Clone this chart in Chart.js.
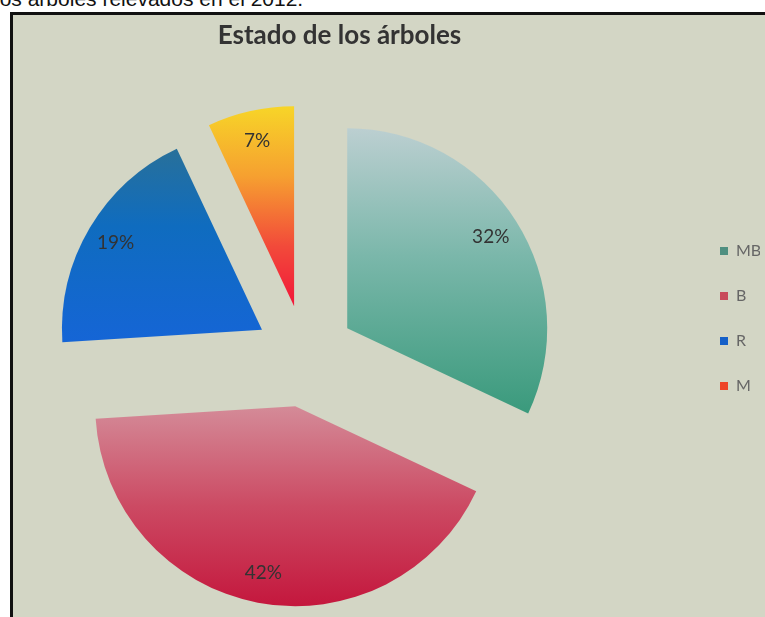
<!DOCTYPE html>
<html><head><meta charset="utf-8">
<script src="https://cdn.jsdelivr.net/npm/chart.js@4/dist/chart.umd.min.js"></script>
<style>
html,body{margin:0;padding:0;width:765px;height:617px;overflow:hidden;background:#fff;}
#cut{position:absolute;left:-5px;top:-12px;font:21px "Liberation Sans",sans-serif;color:#111;white-space:nowrap;line-height:22px;}
#frame{position:absolute;left:10px;top:12px;width:800px;height:700px;background:#d3d6c5;border-left:3px solid #111;border-top:3px solid #111;}
#c{position:absolute;left:-84px;top:0;}
</style></head><body>
<div id="cut">los árboles relevados en el 2012.</div>
<div id="frame"></div>
<canvas id="c" width="844" height="617"></canvas>
<script>
const TITLE = 'Estado de los árboles';
const categories = ['MB', 'B', 'R', 'M'];
const values = [32, 42, 19, 7];
const explode = [50, 52, 50, 50];
const sliceStops = [
  [[0, '#bccfd1'], [0.45, '#7ab7aa'], [1, '#3a9a7c']],
  [[0, '#d48b98'], [0.5, '#cc4a63'], [1, '#c4173d']],
  [[0, '#28709a'], [0.4, '#0f6cbf'], [1, '#1565d6']],
  [[0, '#f7d528'], [0.35, '#f6a030'], [0.7, '#f24a3a'], [1, '#f2163a']]
];
const legendColors = ['#4f8f80', '#c84a5a', '#1560c8', '#ee4428'];
const RADIUS = 200;
const LABEL_POS = 0.85;

const ArcEl = (Chart.elements && Chart.elements.ArcElement) || Chart.ArcElement;
const baseDraw = ArcEl.prototype.draw;
ArcEl.prototype.draw = function (ctx) {
  const e = this.$explode || 0;
  const mid = (this.startAngle + this.endAngle) / 2;
  ctx.save();
  ctx.translate(Math.cos(mid) * e, Math.sin(mid) * e);
  baseDraw.call(this, ctx);
  ctx.restore();
};

function sliceGradient(context) {
  const chart = context.chart;
  const area = chart.chartArea;
  const i = context.dataIndex;
  if (!area || i === undefined) return legendColors[i] || '#888';
  const cx = (area.left + area.right) / 2, cy = (area.top + area.bottom) / 2;
  const total = values.reduce((a, b) => a + b, 0);
  let before = 0;
  for (let k = 0; k < i; k++) before += values[k];
  const a0 = -Math.PI / 2 + 2 * Math.PI * before / total;
  const a1 = a0 + 2 * Math.PI * values[i] / total;
  let ymin = cy, ymax = cy;
  for (let s = 0; s <= 40; s++) {
    const a = a0 + (a1 - a0) * s / 40;
    const y = cy + Math.sin(a) * RADIUS;
    ymin = Math.min(ymin, y); ymax = Math.max(ymax, y);
  }
  const g = chart.ctx.createLinearGradient(cx, ymin, cx, ymax);
  sliceStops[i].forEach(([p, c]) => g.addColorStop(p, c));
  return g;
}

const explodePlugin = {
  id: 'explode',
  beforeDatasetsDraw(chart) {
    chart.getDatasetMeta(0).data.forEach((el, i) => { el.$explode = explode[i]; });
  },
  afterDatasetsDraw(chart) {
    const ctx = chart.ctx;
    ctx.save();
    ctx.font = '19px Lato, "Open Sans", sans-serif';
    ctx.fillStyle = '#333';
    ctx.textAlign = 'center';
    ctx.textBaseline = 'middle';
    chart.getDatasetMeta(0).data.forEach((el, i) => {
      const mid = (el.startAngle + el.endAngle) / 2;
      const d = explode[i] + LABEL_POS * el.outerRadius;
      ctx.fillText(values[i] + '%', el.x + Math.cos(mid) * d, el.y + Math.sin(mid) * d);
    });
    ctx.restore();
  }
};

new Chart(document.getElementById('c'), {
  type: 'pie',
  data: {
    labels: categories,
    datasets: [{
      data: values,
      backgroundColor: sliceGradient,
      borderWidth: 0,
      radius: RADIUS
    }]
  },
  options: {
    responsive: false,
    animation: false,
    layout: { padding: { left: 3, right: 0, top: 0, bottom: 0 } },
    plugins: {
      title: {
        display: true, text: TITLE, color: '#333',
        font: { family: 'Lato, "Open Sans", sans-serif', size: 26, weight: 'bold' },
        padding: { top: 20, bottom: 42 }
      },
      legend: {
        position: 'right', align: 'start', maxWidth: 69,
        title: { display: true, text: ' ', font: { size: 10 }, padding: { top: 202, bottom: 0 } },
        labels: {
          boxWidth: 8, boxHeight: 8, padding: 29, color: '#2a2a2a',
          font: { family: 'Lato, "Open Sans", sans-serif', size: 16 },
          generateLabels(chart) {
            return categories.map((c, i) => ({
              text: c, fillStyle: legendColors[i], strokeStyle: legendColors[i],
              lineWidth: 0, hidden: false, index: i
            }));
          }
        }
      },
      tooltip: { enabled: false }
    }
  },
  plugins: [explodePlugin]
});
</script>
</body></html>
